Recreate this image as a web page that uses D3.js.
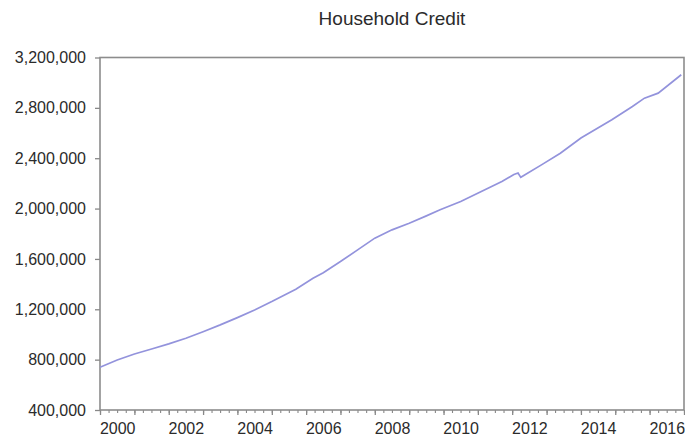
<!DOCTYPE html>
<html>
<head>
<meta charset="utf-8">
<script src="https://cdn.jsdelivr.net/npm/d3@7"></script>
<style>
  body { margin: 0; background: #fff; }
  text { font-family: "Liberation Sans", Arial, sans-serif; fill: #333; }
</style>
</head>
<body>
<svg id="chart" width="685" height="443"></svg>
<script>
const years = [2000.0, 2000.5, 2001.0, 2001.5, 2002.0, 2002.5, 2003.0, 2003.5, 2004.0, 2004.5,
  2005.0, 2005.7, 2006.2, 2006.5, 2007.0, 2007.5, 2008.0, 2008.5, 2009.0, 2009.5,
  2009.9, 2010.5, 2011.1, 2011.7, 2012.05, 2012.17, 2012.25, 2012.85, 2013.4, 2014.0,
  2014.9, 2015.5, 2015.85, 2016.25, 2016.92];
const credit = [740000, 797000, 845000, 885000, 925000, 970000, 1022000, 1076000, 1134000, 1195000,
  1261000, 1359000, 1447000, 1491000, 1579000, 1672000, 1765000, 1831000, 1884000, 1942000,
  1990000, 2056000, 2135000, 2215000, 2270000, 2283000, 2248000, 2347000, 2440000, 2560000,
  2705000, 2811000, 2877000, 2917000, 3063000];

const yTicks = [400000, 800000, 1200000, 1600000, 2000000, 2400000, 2800000, 3200000];
const yearLabels = [2000, 2002, 2004, 2006, 2008, 2010, 2012, 2014, 2016];
const title = "Household Credit";

const margin = { top: 57.5, right: 1, bottom: 33, left: 100 };
const width = 685, height = 443;

function toDate(y) {
  const yr = Math.floor(y);
  const start = new Date(yr, 0, 1), end = new Date(yr + 1, 0, 1);
  return new Date(start.getTime() + (y - yr) * (end - start));
}

const svg = d3.select("#chart");

const x = d3.scaleTime()
  .domain([new Date(2000, 0, 1), new Date(2017, 0, 1)])
  .range([margin.left, width - margin.right]);
const y = d3.scaleLinear()
  .domain([400000, 3200000])
  .range([height - margin.bottom, margin.top]);

// title
svg.append("text")
  .attr("x", (x.range()[0] + x.range()[1]) / 2)
  .attr("y", 25)
  .attr("text-anchor", "middle")
  .style("font-size", "19px")
  .style("fill", "#2b2b2b")
  .text(title);

// y axis
const yAxis = svg.append("g")
  .attr("transform", `translate(${margin.left},0)`)
  .call(d3.axisLeft(y).tickValues(yTicks).tickFormat(d3.format(",")).tickSize(5).tickSizeOuter(0).tickPadding(9));
yAxis.select(".domain").remove();
yAxis.selectAll("line").attr("stroke", "#888").attr("stroke-width", 1.3);
yAxis.selectAll("text").style("font-size", "16px").style("fill", "#2b2b2b");

// x axis: yearly major ticks, quarterly minor ticks, labels mid-year every 2 years
const xBase = height - margin.bottom;
const minor = svg.append("g")
  .attr("transform", `translate(0,${xBase})`)
  .call(d3.axisBottom(x).ticks(d3.timeMonth.every(3)).tickSize(3).tickFormat(""));
minor.select(".domain").remove();
minor.selectAll("line").attr("stroke", "#888").attr("stroke-width", 1.1);

const major = svg.append("g")
  .attr("transform", `translate(0,${xBase})`)
  .call(d3.axisBottom(x).ticks(d3.timeYear.every(1)).tickSize(5).tickFormat(""));
major.select(".domain").remove();
major.selectAll("line").attr("stroke", "#888").attr("stroke-width", 1.3);

const labels = svg.append("g")
  .attr("transform", `translate(0,${xBase})`)
  .call(d3.axisBottom(x)
    .tickValues(yearLabels.map(d => new Date(d, 6, 2)))
    .tickFormat(d3.timeFormat("%Y"))
    .tickSize(0).tickPadding(13));
labels.select(".domain").remove();
labels.selectAll("text").style("font-size", "16px").style("fill", "#2b2b2b");

// frame
svg.append("rect")
  .attr("x", margin.left)
  .attr("y", margin.top)
  .attr("width", width - margin.right - margin.left)
  .attr("height", height - margin.bottom - margin.top)
  .attr("fill", "none")
  .attr("stroke", "#8c8c8c")
  .attr("stroke-width", 1.6);

// series
const line = d3.line()
  .x((d, i) => x(toDate(years[i])))
  .y(d => y(d));

svg.append("path")
  .datum(credit)
  .attr("fill", "none")
  .attr("stroke", "#9393dc")
  .attr("stroke-width", 1.7)
  .attr("d", line);
</script>
</body>
</html>
